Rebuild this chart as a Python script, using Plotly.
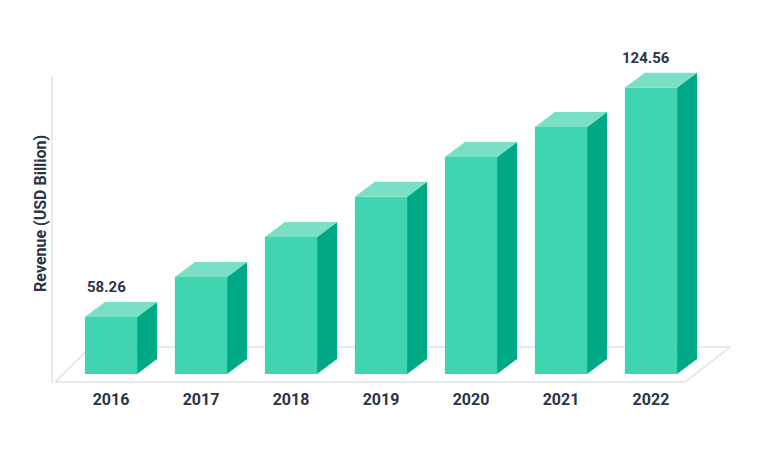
import plotly.graph_objects as go

years = ["2016", "2017", "2018", "2019", "2020", "2021", "2022"]
revenue = [58.26, 69.8, 81.4, 93.0, 104.5, 113.2, 124.56]
labelled = {0: "58.26", 6: "124.56"}

FRONT = "#3fd5b0"
SIDE = "#00a985"
TOP = "#7ae0c5"
TEXT = "#2b3545"

base = 41.8      # value at the bars' bottom edge
half = 0.29      # half bar width (x units)
dx, dy = 0.222, 4.33  # depth offset of the 3d faces

fig = go.Figure()

# floor
fig.add_trace(go.Scatter(
    x=[-0.62, 6.38, 6.88, -0.23, -0.62], y=[39.5, 39.5, 49.6, 49.6, 39.5],
    mode="lines", line=dict(color="#dde3ea", width=1.5), fill="toself",
    fillcolor="rgba(255,255,255,0)", hoverinfo="skip"))
# left axis line
fig.add_trace(go.Scatter(x=[-0.656, -0.656], y=[39.2, 127.9], mode="lines",
                         line=dict(color="#dde3ea", width=1.5), hoverinfo="skip"))

for i, v in enumerate(revenue):
    x0, x1 = i - half, i + half
    # front face
    fig.add_trace(go.Scatter(x=[x0, x1, x1, x0, x0], y=[base, base, v, v, base],
                             mode="lines", line=dict(width=0), fill="toself",
                             fillcolor=FRONT, hoverinfo="skip"))
    # side face
    fig.add_trace(go.Scatter(x=[x1, x1 + dx, x1 + dx, x1, x1],
                             y=[base, base + dy, v + dy, v, base],
                             mode="lines", line=dict(width=0), fill="toself",
                             fillcolor=SIDE, hoverinfo="skip"))
    # top face
    fig.add_trace(go.Scatter(x=[x0, x1, x1 + dx, x0 + dx, x0],
                             y=[v, v, v + dy, v + dy, v],
                             mode="lines", line=dict(width=0), fill="toself",
                             fillcolor=TOP, hoverinfo="skip"))
    if i in labelled:
        fig.add_annotation(x=i - 0.05, y=v + 8.7, text=f"<b>{labelled[i]}</b>",
                           showarrow=False, font=dict(size=15, color=TEXT))

fig.add_annotation(xref="paper", yref="paper", x=-0.028, y=0.5,
                   text="<b>Revenue (USD Billion)</b>", textangle=-90,
                   showarrow=False, font=dict(size=16, color=TEXT))

fig.update_layout(
    width=770, height=455, showlegend=False,
    paper_bgcolor="white", plot_bgcolor="white",
    margin=dict(l=40, r=30, t=30, b=75),
    font=dict(family="Roboto, sans-serif"),
    xaxis=dict(range=[-0.70, 7.078], tickvals=list(range(len(years))),
               ticktext=[f"<b>{y}</b>" for y in years], showgrid=False,
               zeroline=False, showline=False, ticks="",
               tickfont=dict(size=16, color=TEXT)),
    yaxis=dict(range=[37.75, 138.9], visible=False),
)

fig.write_html("out.html")
